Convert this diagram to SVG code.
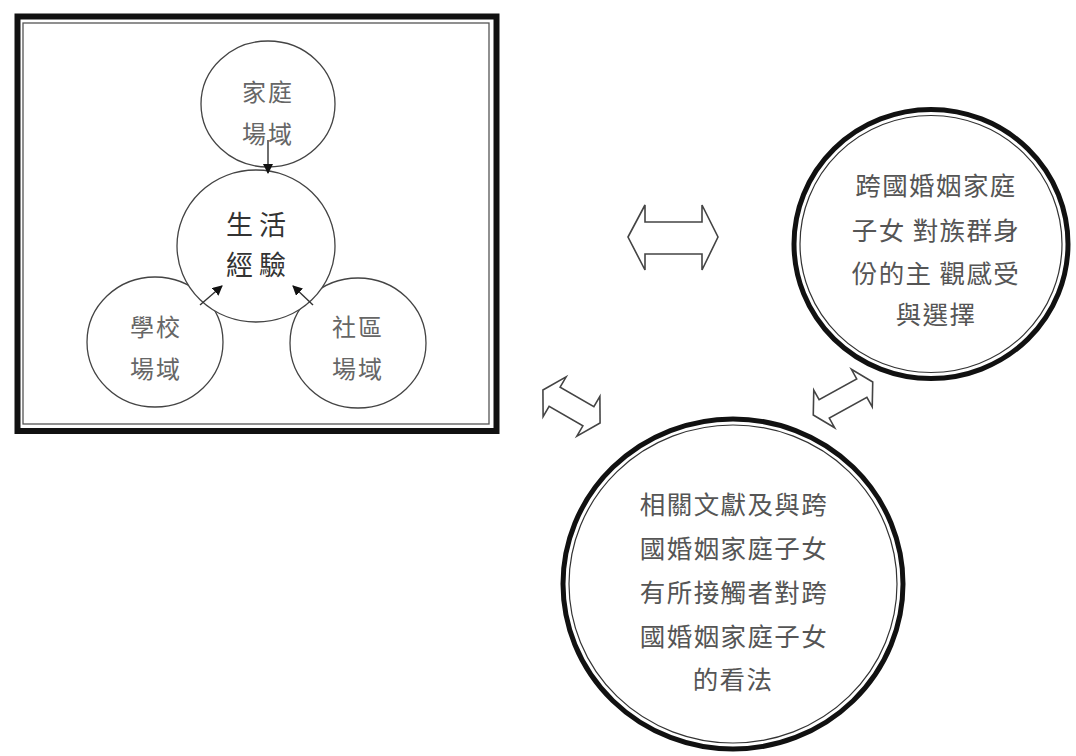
<svg xmlns="http://www.w3.org/2000/svg" width="1076" height="756" viewBox="0 0 1076 756">
<style>
.bg{fill:#ffffff}
.thin{fill:#ffffff;stroke:#444;stroke-width:1.3}
.lt{font-family:"Noto Sans CJK TC","Noto Sans CJK SC",sans-serif;font-size:24px;fill:#666;text-anchor:middle;dominant-baseline:central;letter-spacing:2px}
.ct{font-family:"Noto Sans CJK TC","Noto Sans CJK SC",sans-serif;font-size:27px;fill:#333;text-anchor:middle;dominant-baseline:central;letter-spacing:6px}
.rt{font-family:"Noto Sans CJK TC","Noto Sans CJK SC",sans-serif;font-size:25.5px;fill:#555;text-anchor:middle;dominant-baseline:central;letter-spacing:1.4px}
.thick{fill:#ffffff;stroke:#111;stroke-width:5}
.inner{fill:none;stroke:#333;stroke-width:1.2}
.darr{fill:#ffffff;stroke:#444;stroke-width:1.6;stroke-linejoin:miter}
.conn{stroke:#333;stroke-width:1.4;fill:none}
</style>
<defs>
<marker id="ah" markerWidth="10" markerHeight="10" refX="9" refY="5" orient="auto" markerUnits="userSpaceOnUse">
<path d="M0,0 L10,5 L0,10 z" fill="#111"/>
</marker>
</defs>
<rect class="bg" x="0" y="0" width="1076" height="756"/>

<g id="frame">
<rect x="17.5" y="16.5" width="479" height="414.5" fill="#fff" stroke="#111" stroke-width="6"/>
<rect x="23" y="23" width="466" height="401" fill="none" stroke="#555" stroke-width="1.3"/>
</g>

<g id="node-home">
<ellipse class="thin" cx="268" cy="104" rx="67" ry="63"/>
<text class="lt" x="268" y="90">家庭</text>
<text class="lt" x="268" y="132">場域</text>
</g>

<g id="node-school">
<ellipse class="thin" cx="155" cy="342" rx="68" ry="65"/>
<text class="lt" x="156" y="325">學校</text>
<text class="lt" x="156" y="367">場域</text>
</g>

<g id="node-community">
<ellipse class="thin" cx="358" cy="343" rx="68" ry="65"/>
<text class="lt" x="358" y="325">社區</text>
<text class="lt" x="358" y="367">場域</text>
</g>

<g id="node-life">
<ellipse class="thin" cx="256" cy="246" rx="79" ry="76"/>
<text class="ct" x="259" y="223">生活</text>
<text class="ct" x="259" y="263">經驗</text>
</g>

<g id="connectors">
<line class="conn" x1="268" y1="140" x2="268" y2="173" marker-end="url(#ah)"/>
<line class="conn" x1="200" y1="305" x2="222" y2="286" marker-end="url(#ah)"/>
<line class="conn" x1="313" y1="305" x2="293" y2="286" marker-end="url(#ah)"/>
<polygon class="darr" points="628,237 645,205 645,222 702,222 702,205 718,237 702,270 702,254 645,254 645,270"/>
<polygon class="darr" transform="translate(571.5,406.5) rotate(30)" points="-33,0 -19.5,-23 -19.5,-11 19.5,-11 19.5,-23 33,0 19.5,23 19.5,11 -19.5,11 -19.5,23"/>
<polygon class="darr" transform="translate(843,398.5) rotate(-29)" points="-34,0 -21.5,-21.5 -21.5,-10.5 21.5,-10.5 21.5,-21.5 34,0 21.5,21.5 21.5,10.5 -21.5,10.5 -21.5,21.5"/>
</g>

<g id="node-subjective">
<ellipse class="thick" cx="931" cy="244" rx="137" ry="134.5"/>
<ellipse class="inner" cx="931" cy="244" rx="131" ry="128.5"/>
<text class="rt" x="936" y="183">跨國婚姻家庭</text>
<text class="rt" x="936" y="228">子女 對族群身</text>
<text class="rt" x="936" y="271">份的主 觀感受</text>
<text class="rt" x="936" y="312">與選擇</text>
</g>

<g id="node-literature">
<ellipse class="thick" cx="733" cy="584" rx="170" ry="165"/>
<ellipse class="inner" cx="733" cy="584" rx="164" ry="159"/>
<text class="rt" x="734" y="502">相關文獻及與跨</text>
<text class="rt" x="734" y="546">國婚姻家庭子女</text>
<text class="rt" x="734" y="590">有所接觸者對跨</text>
<text class="rt" x="734" y="634">國婚姻家庭子女</text>
<text class="rt" x="733" y="677">的看法</text>
</g>
</svg>
